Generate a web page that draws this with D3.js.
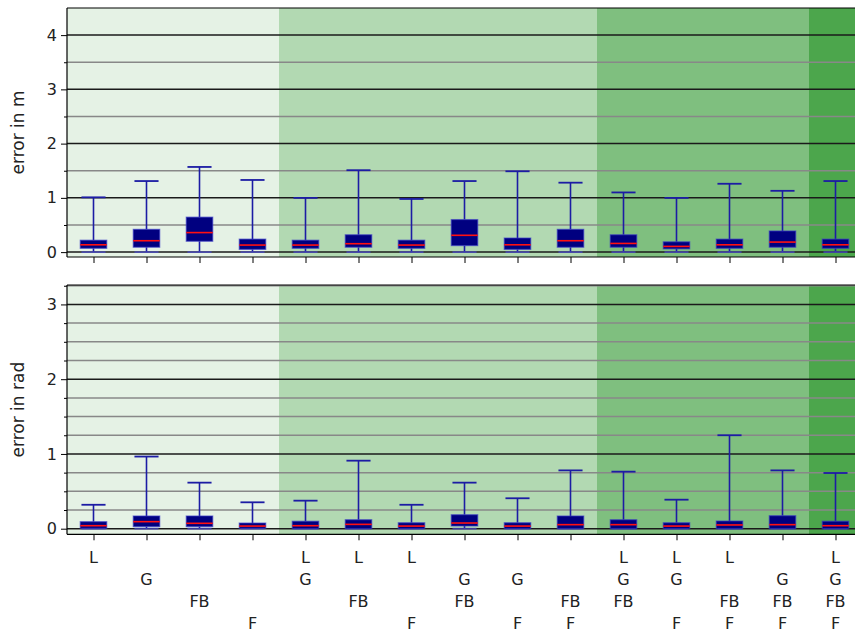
<!DOCTYPE html>
<html>
<head>
<meta charset="utf-8">
<script src="https://cdn.jsdelivr.net/npm/d3@7"></script>
<style>
  body { margin: 0; background: #fff; }
  svg { display: block; font-family: "DejaVu Sans", sans-serif; }
</style>
</head>
<body>
<div id="container"></div>
<script>
/*
    Sensor combinations, one row per sensor
*/
var rowL  = ["L", "",  "",   "",  "L", "L",  "L", "",   "",  "",   "L",  "L", "L",  "",   "L"];
var rowG  = ["",  "G", "",   "",  "G", "",   "",  "G",  "G", "",   "G",  "G", "",   "G",  "G"];
var rowFB = ["",  "",  "FB", "",  "",  "FB", "",  "FB", "",  "FB", "FB", "",  "FB", "FB", "FB"];
var rowF  = ["",  "",  "",   "F", "",  "",   "F", "",   "F", "F",  "",   "F", "F",  "F",  "F"];

/*
    Position error (m): whisker low, q1, median, q3, whisker high
*/
var posLow  = [0, 0, 0, 0, 0, 0, 0, 0, 0, 0, 0, 0, 0, 0, 0];
var posQ1   = [0.07, 0.09, 0.20, 0.05, 0.07, 0.09, 0.07, 0.12, 0.05, 0.09, 0.09, 0.06, 0.07, 0.09, 0.07];
var posMed  = [0.135, 0.21, 0.36, 0.13, 0.13, 0.155, 0.13, 0.31, 0.135, 0.21, 0.16, 0.105, 0.135, 0.185, 0.135];
var posQ3   = [0.22, 0.42, 0.645, 0.24, 0.22, 0.32, 0.22, 0.60, 0.26, 0.42, 0.32, 0.19, 0.24, 0.39, 0.24];
var posHigh = [1.01, 1.31, 1.57, 1.33, 1.00, 1.51, 0.98, 1.31, 1.49, 1.28, 1.10, 1.00, 1.26, 1.13, 1.31];

/*
    Orientation error (rad)
*/
var rotLow  = [0, 0, 0, 0, 0, 0, 0, 0, 0, 0, 0, 0, 0, 0, 0];
var rotQ1   = [0.005, 0.027, 0.027, 0.005, 0.0, 0.0, 0.0, 0.036, 0.0, 0.0, 0.0, 0.0, 0.0, 0.0, 0.0];
var rotMed  = [0.04, 0.094, 0.072, 0.035, 0.04, 0.058, 0.035, 0.076, 0.035, 0.054, 0.054, 0.035, 0.05, 0.054, 0.04];
var rotQ3   = [0.094, 0.17, 0.17, 0.076, 0.10, 0.12, 0.08, 0.187, 0.08, 0.17, 0.12, 0.08, 0.103, 0.174, 0.10];
var rotHigh = [0.32, 0.965, 0.616, 0.353, 0.375, 0.91, 0.32, 0.616, 0.407, 0.78, 0.763, 0.388, 1.25, 0.78, 0.745];

var yTicksPos = [0, 1, 2, 3, 4];
var yTicksRot = [0, 1, 2, 3];

var width = 855;
var height = 634;
var bandAlpha = [0, 0.1, 0.3, 0.5, 0.7];
var FONT = 16;

var svg = d3.select("#container").append("svg")
    .attr("width", width)
    .attr("height", height);

var positions = d3.range(1, 16);

var x = d3.scaleLinear()
    .domain([0.5, 15.5])
    .range([67, 862]);

function sensorCount(i) {
    return [rowL[i], rowG[i], rowFB[i], rowF[i]].filter(function (s) { return s != ""; }).length;
}

/*
    One band per number of sensors, spanning its boxes
*/
var bands = d3.groups(positions, function (d) { return sensorCount(d - 1); })
    .map(function (gr) {
        return { n: gr[0], from: d3.min(gr[1]) - 0.5, to: d3.max(gr[1]) + 0.5 };
    });

/*
    Draw one panel: bands, grid, boxes, axis
*/
function drawPanel(top, bottom, domain, majors, minorStep, label, low, q1, med, q3, high) {
    var y = d3.scaleLinear().domain(domain).range([bottom, top]);
    var g = svg.append("g");

    g.selectAll(".band")
        .data(bands)
        .enter().append("rect")
        .attr("x", function (d) { return x(d.from); })
        .attr("width", function (d) { return x(d.to) - x(d.from); })
        .attr("y", top)
        .attr("height", bottom - top)
        .attr("fill", "rgb(0,128,0)")
        .attr("fill-opacity", function (d) { return bandAlpha[d.n]; });

    var minors = d3.range(0, domain[1], minorStep).filter(function (v) {
        return Math.abs(v - Math.round(v)) > 1e-6;
    });

    g.selectAll(".minor")
        .data(minors)
        .enter().append("line")
        .attr("x1", x.range()[0]).attr("x2", x.range()[1])
        .attr("y1", y).attr("y2", y)
        .attr("stroke", "#888").attr("stroke-width", 1.5);

    g.selectAll(".major")
        .data(majors)
        .enter().append("line")
        .attr("x1", x.range()[0]).attr("x2", x.range()[1])
        .attr("y1", y).attr("y2", y)
        .attr("stroke", "#1a1a1a").attr("stroke-width", 1.5);

    // boxes
    var bw = (x(1.5) - x(0.5)) * 0.5;
    var box = g.selectAll(".box")
        .data(positions)
        .enter().append("g");

    box.append("line")
        .attr("x1", function (d) { return x(d); }).attr("x2", function (d) { return x(d); })
        .attr("y1", function (d) { return y(high[d - 1]); })
        .attr("y2", function (d) { return y(q3[d - 1]); })
        .attr("stroke", "#1c1ca4").attr("stroke-width", 1.6);
    box.append("line")
        .attr("x1", function (d) { return x(d); }).attr("x2", function (d) { return x(d); })
        .attr("y1", function (d) { return y(low[d - 1]); })
        .attr("y2", function (d) { return y(q1[d - 1]); })
        .attr("stroke", "#1c1ca4").attr("stroke-width", 1.6);
    box.append("line")
        .attr("x1", function (d) { return x(d) - bw / 2.2; }).attr("x2", function (d) { return x(d) + bw / 2.2; })
        .attr("y1", function (d) { return y(high[d - 1]); })
        .attr("y2", function (d) { return y(high[d - 1]); })
        .attr("stroke", "#1c1ca4").attr("stroke-width", 1.8);
    box.append("line")
        .attr("x1", function (d) { return x(d) - bw / 2.2; }).attr("x2", function (d) { return x(d) + bw / 2.2; })
        .attr("y1", function (d) { return y(low[d - 1]); })
        .attr("y2", function (d) { return y(low[d - 1]); })
        .attr("stroke", "#4a4ad0").attr("stroke-opacity", 0.7).attr("stroke-width", 1.8);
    box.append("rect")
        .attr("x", function (d) { return x(d) - bw / 2; })
        .attr("width", bw)
        .attr("y", function (d) { return y(q3[d - 1]); })
        .attr("height", function (d) { return Math.max(y(q1[d - 1]) - y(q3[d - 1]), 1); })
        .attr("fill", "#000080")
        .attr("stroke", "#3a3ac8").attr("stroke-opacity", 0.6).attr("stroke-width", 1.2);
    box.append("line")
        .attr("x1", function (d) { return x(d) - bw / 2; }).attr("x2", function (d) { return x(d) + bw / 2; })
        .attr("y1", function (d) { return y(med[d - 1]); })
        .attr("y2", function (d) { return y(med[d - 1]); })
        .attr("stroke", "#ff1010").attr("stroke-width", 1.6);

    // spines
    g.append("line").attr("x1", 67).attr("x2", 67).attr("y1", top).attr("y2", bottom)
        .attr("stroke", "#000").attr("stroke-width", 1.2);
    g.append("line").attr("x1", 67).attr("x2", width).attr("y1", top).attr("y2", top)
        .attr("stroke", "#000").attr("stroke-width", 1.2);
    g.append("line").attr("x1", 67).attr("x2", width).attr("y1", bottom).attr("y2", bottom)
        .attr("stroke", "#000").attr("stroke-width", 1.2);

    // y ticks
    var yAxis = d3.axisLeft(y).tickValues(majors).tickSize(6).tickPadding(4).tickFormat(d3.format("d"));
    var ya = g.append("g").attr("transform", "translate(67,0)").call(yAxis);
    ya.select(".domain").remove();
    ya.selectAll("text").attr("font-size", FONT).attr("fill", "#222").attr("font-family", "DejaVu Sans");

    var yMinor = d3.axisLeft(y).tickValues(minors).tickSize(3).tickFormat("");
    var ym = g.append("g").attr("transform", "translate(67,0)").call(yMinor);
    ym.select(".domain").remove();

    // x ticks
    var xAxis = d3.axisBottom(x).tickValues(positions).tickSize(6).tickFormat("");
    var xa = g.append("g").attr("transform", "translate(0," + bottom + ")").call(xAxis);
    xa.select(".domain").remove();

    svg.append("text")
        .attr("transform", "translate(24," + ((top + bottom) / 2) + ")rotate(-90)")
        .attr("text-anchor", "middle")
        .attr("font-size", FONT + 1)
        .attr("fill", "#222")
        .text(label);
}

drawPanel(8, 257, [-0.09, 4.5], yTicksPos, 0.5, "error in m", posLow, posQ1, posMed, posQ3, posHigh);
drawPanel(285, 534.3, [-0.075, 3.26], yTicksRot, 0.25, "error in rad", rotLow, rotQ1, rotMed, rotQ3, rotHigh);

/*
    Multi-row sensor labels under the lower panel
*/
var rows = [rowL, rowG, rowFB, rowF];
rows.forEach(function (row, r) {
    svg.append("g").selectAll("text")
        .data(positions)
        .enter().append("text")
        .attr("x", function (d) { return x(d); })
        .attr("y", 562.5 + r * 22.2)
        .attr("text-anchor", "middle")
        .attr("font-size", FONT)
        .attr("fill", "#222")
        .text(function (d) { return row[d - 1]; });
});
</script>
</body>
</html>
